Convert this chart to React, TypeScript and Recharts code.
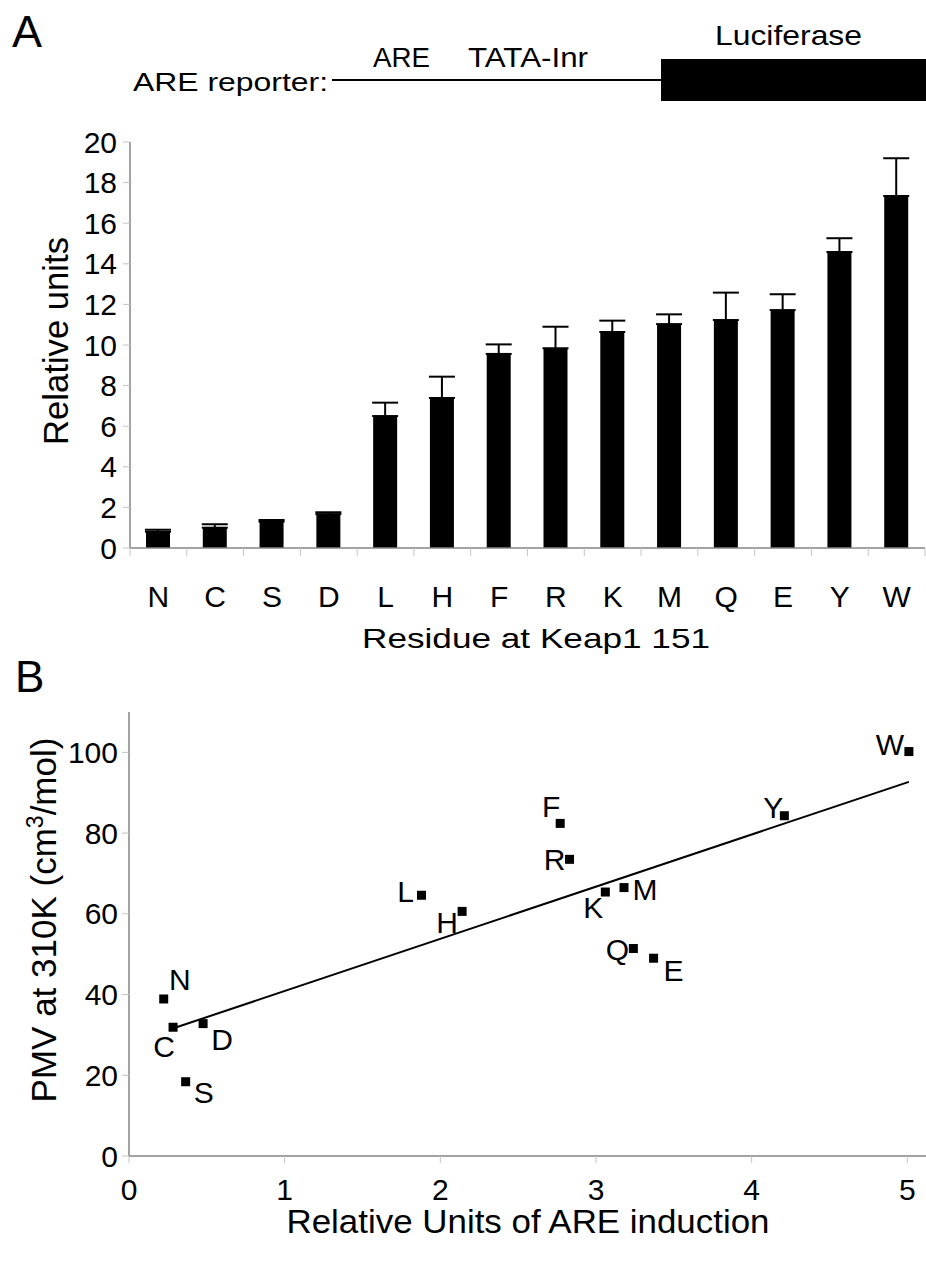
import React from "react";
import {
  BarChart,
  Bar,
  ErrorBar,
  XAxis,
  YAxis,
  ComposedChart,
  Scatter,
  ReferenceLine,
} from "recharts";

const FONT = "'Liberation Sans', Arial, sans-serif";

// residues at Keap1 151, ordered as in panel A
const residues = ["N", "C", "S", "D", "L", "H", "F", "R", "K", "M", "Q", "E", "Y", "W"];

// panel A: ARE reporter activity (relative units) and upper error
const relUnits = [0.8, 1.0, 1.3, 1.67, 6.5, 7.39, 9.56, 9.84, 10.64, 11.03, 11.23, 11.72, 14.58, 17.34];
const relErr = [0.1, 0.17, 0.08, 0.09, 0.66, 1.05, 0.47, 1.06, 0.56, 0.48, 1.35, 0.78, 0.68, 1.86];
const yTicksA = [0, 2, 4, 6, 8, 10, 12, 14, 16, 18, 20];

// panel B: ARE induction vs partial molar volume
const induction = [0.223, 0.283, 0.364, 0.476, 1.879, 2.14, 2.77, 2.83, 3.06, 3.18, 3.24, 3.37, 4.21, 5.01];
const pmv = [38.9, 31.9, 18.4, 32.8, 64.6, 60.6, 82.4, 73.5, 65.4, 66.5, 51.4, 49.0, 84.3, 100.2];
const xTicksB = [0, 1, 2, 3, 4, 5];
const yTicksB = [0, 20, 40, 60, 80, 100];
const trendX = [0.29, 5.01];
const trendY = [31.7, 92.7];

// where each point's letter sits relative to its marker
const labelOffsets: Record<string, [number, number]> = {
  N: [16, -19], C: [-9, 19], S: [18, 11], D: [19, 16], L: [-16, -4], H: [-15, 11], F: [-9, -17],
  R: [-15, 0], K: [-12, 15], M: [21, 2], Q: [-16, 1], E: [20, 12], Y: [-11, -8], W: [-19, -7],
};

const barData = residues.map((r, i) => ({ res: r, val: relUnits[i], err: [0, relErr[i]] }));
const scatterData = residues.map((r, i) => ({ res: r, x: induction[i], y: pmv[i] }));

const AXIS = "#858585";
const TICK = "#c4c4c4";
const BAND = 795 / residues.length;

const ResidueTick = (props: any) => {
  const { x, y, payload, index } = props;
  return (
    <g>
      <line x1={x - BAND / 2} y1={y} x2={x - BAND / 2} y2={y + 8} stroke={TICK} />
      {index === residues.length - 1 && (
        <line x1={x + BAND / 2} y1={y} x2={x + BAND / 2} y2={y + 8} stroke={TICK} />
      )}
      <text x={x} y={y + 59} textAnchor="middle" fontSize={30} fontFamily={FONT} fill="#000">
        {payload.value}
      </text>
    </g>
  );
};

const PointShape = (props: any) => {
  const { cx, cy, payload } = props;
  const [dx, dy] = labelOffsets[payload.res] || [0, 0];
  return (
    <g>
      <rect x={cx - 4.5} y={cy - 4.5} width={9} height={9} fill="#000" />
      <text
        x={cx + dx}
        y={cy + dy}
        textAnchor="middle"
        dominantBaseline="central"
        fontSize={30}
        fontFamily={FONT}
        fill="#000"
      >
        {payload.res}
      </text>
    </g>
  );
};

export default function App() {
  return (
    <div style={{ position: "absolute", left: 0, top: 0, width: 926, height: 1263, background: "#fff" }}>
      <div style={{ position: "absolute", left: 0, top: 0 }}>
        <BarChart
          width={926}
          height={648}
          data={barData}
          margin={{ top: 142, right: 1, left: 0, bottom: 0 }}
          barSize={24}
        >
          <XAxis
            dataKey="res"
            height={100}
            interval={0}
            tickSize={0}
            tickMargin={0}
            tickLine={false}
            tick={<ResidueTick />}
            axisLine={{ stroke: AXIS, strokeWidth: 1.5 }}
          />
          <XAxis
            xAxisId="top"
            dataKey="res"
            orientation="top"
            height={0}
            tick={false}
            tickLine={false}
            axisLine={{ stroke: AXIS, strokeWidth: 1.5 }}
          />
          <YAxis
            width={130}
            domain={[0, 20]}
            ticks={yTicksA}
            interval={0}
            tickSize={7}
            tickMargin={6}
            tickLine={{ stroke: TICK }}
            axisLine={{ stroke: AXIS, strokeWidth: 1.5 }}
            tick={{ fontSize: 30, fill: "#000", fontFamily: FONT }}
          />
          <YAxis
            yAxisId="right"
            orientation="right"
            width={0}
            domain={[0, 20]}
            tick={false}
            tickLine={false}
            axisLine={{ stroke: AXIS, strokeWidth: 1.5 }}
          />
          <Bar dataKey="val" fill="#000" isAnimationActive={false}>
            <ErrorBar dataKey="err" width={13} strokeWidth={2} stroke="#000" isAnimationActive={false} />
          </Bar>
        </BarChart>
      </div>

      <div style={{ position: "absolute", left: 0, top: 660 }}>
        <ComposedChart width={926} height={596} margin={{ top: 52, right: 0, left: 0, bottom: 0 }}>
          <XAxis
            type="number"
            dataKey="x"
            domain={[0, 5.12]}
            ticks={xTicksB}
            interval={0}
            height={100}
            tickSize={7}
            tickMargin={16}
            tickLine={{ stroke: TICK }}
            axisLine={{ stroke: AXIS, strokeWidth: 1.5 }}
            tick={{ fontSize: 30, fill: "#000", fontFamily: FONT }}
            allowDataOverflow
          />
          <XAxis
            xAxisId="top"
            type="number"
            orientation="top"
            domain={[0, 5.12]}
            height={0}
            tick={false}
            tickLine={false}
            axisLine={{ stroke: AXIS, strokeWidth: 1.5 }}
          />
          <YAxis
            type="number"
            dataKey="y"
            width={129}
            domain={[0, 110]}
            ticks={yTicksB}
            interval={0}
            tickSize={7}
            tickMargin={4}
            tickLine={{ stroke: TICK }}
            axisLine={{ stroke: AXIS, strokeWidth: 1.5 }}
            tick={{ fontSize: 30, fill: "#000", fontFamily: FONT }}
          />
          <ReferenceLine
            segment={[
              { x: trendX[0], y: trendY[0] },
              { x: trendX[1], y: trendY[1] },
            ]}
            stroke="#000"
            strokeWidth={2}
            ifOverflow="visible"
          />
          <Scatter data={scatterData} shape={<PointShape />} isAnimationActive={false} />
        </ComposedChart>
      </div>

      <svg
        width={926}
        height={1263}
        style={{ position: "absolute", left: 0, top: 0, pointerEvents: "none" }}
        fontFamily={FONT}
      >
        <text x={12} y={47} fontSize={45}>A</text>
        <text x={133} y={91} fontSize={26} textLength={195} lengthAdjust="spacingAndGlyphs">ARE reporter:</text>
        <line x1={332} y1={80} x2={662} y2={80} stroke="#000" strokeWidth={2} />
        <text x={373} y={67} fontSize={28} textLength={57} lengthAdjust="spacingAndGlyphs">ARE</text>
        <text x={468} y={67} fontSize={28} textLength={120} lengthAdjust="spacingAndGlyphs">TATA-Inr</text>
        <text x={715} y={45} fontSize={28} textLength={147} lengthAdjust="spacingAndGlyphs">Luciferase</text>
        <rect x={661} y={59} width={265} height={42} fill="#000" />

        <text
          x={68}
          y={341}
          fontSize={35}
          textAnchor="middle"
          transform="rotate(-90 68 341)"
          textLength={208}
          lengthAdjust="spacingAndGlyphs"
        >
          Relative units
        </text>
        <text x={536} y={648} fontSize={28} textAnchor="middle" textLength={348} lengthAdjust="spacingAndGlyphs">
          Residue at Keap1 151
        </text>

        <text x={15} y={692} fontSize={44}>B</text>
        <text x={56} y={920} fontSize={35} textAnchor="middle" transform="rotate(-90 56 920)">
          PMV at 310K (cm
          <tspan baselineShift="super" fontSize={23}>3</tspan>
          /mol)
        </text>
        <text x={528} y={1233} fontSize={33} textAnchor="middle" textLength={483} lengthAdjust="spacingAndGlyphs">
          Relative Units of ARE induction
        </text>
      </svg>
    </div>
  );
}
